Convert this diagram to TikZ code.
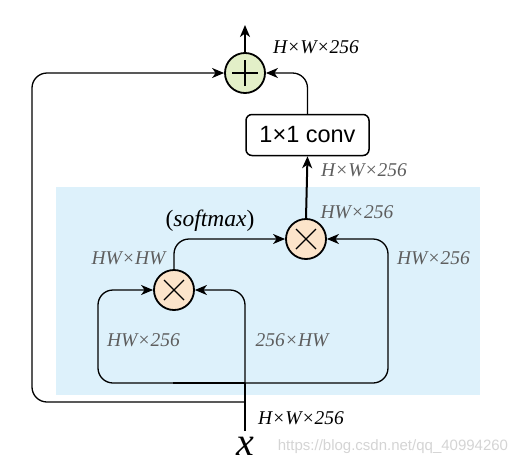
\documentclass[tikz,border=0pt]{standalone}
\usepackage{fontspec}
\setmainfont{Liberation Serif}
\newfontfamily\arialf{Liberation Sans}
\usetikzlibrary{arrows.meta}
\definecolor{bgblue}{HTML}{DDF1FB}
\definecolor{plusgreen}{HTML}{E3EFC8}
\definecolor{mulpeach}{HTML}{FCE4CA}
\definecolor{lblgray}{HTML}{5E5E5E}
\definecolor{wmgray}{HTML}{D4D4D4}
\begin{document}
\begin{tikzpicture}[x=1pt,y=-1pt,
  tip/.style={-{Stealth[length=12pt,width=10pt,inset=3.5pt]}},
  conn/.style={line width=1.3pt,rounded corners=15pt},
  thickconn/.style={line width=2pt},
  opc/.style={circle,draw,line width=1.8pt,minimum size=40pt,inner sep=0pt},
  lbl/.style={font=\fontsize{19.5}{22}\selectfont\itshape,text=lblgray,inner sep=0pt},
  lblk/.style={font=\fontsize{19.5}{22}\selectfont\itshape,text=black,inner sep=0pt}]
\useasboundingbox (0,0) rectangle (531,469);
\fill[bgblue] (56,187) rectangle (480,395);

% nodes
\node[opc,fill=plusgreen] (plus) at (245,73) {};
\node[opc,fill=mulpeach] (m1) at (174,290) {};
\node[opc,fill=mulpeach] (m2) at (306,239) {};
\node[draw,line width=1.5pt,rounded corners=6pt,fill=white,minimum width=123pt,minimum height=41pt,inner sep=0pt,font=\arialf\fontsize{23.5}{26}\selectfont] (conv) at (307.5,135) {1×1 conv};

% symbols
\draw[line width=1.8pt] ([xshift=-13pt]plus.center) -- ([xshift=13pt]plus.center);
\draw[line width=1.8pt] ([yshift=-13pt]plus.center) -- ([yshift=13pt]plus.center);
\foreach \m in {m1,m2}{
  \draw[line width=1.1pt] ([xshift=-10pt,yshift=-10pt]\m.center) -- ([xshift=10pt,yshift=10pt]\m.center);
  \draw[line width=1.1pt] ([xshift=-10pt,yshift=10pt]\m.center) -- ([xshift=10pt,yshift=-10pt]\m.center);
}

% coordinates
\coordinate (out) at (245,25);
\coordinate (xin) at (245,431);
\coordinate (skipj) at (245,402);
\coordinate (bj) at (245,383);

% connectors
\draw[thickconn,tip] (plus.north) -- (out);
\draw[conn,tip] (skipj) -- (32,402) -- (32,73) -- (plus.west);
\draw[conn,tip] (conv.north) |- (plus.east);
\draw[thickconn,tip] (m2.north) -- (conv.south);
\draw[conn,tip] (m1.north) |- (m2.west);
\draw[conn,tip] (bj) -- (98,383) -- (98,290) -- (m1.west);
\draw[conn,tip] (bj) -- (388,383) -- (388,239) -- (m2.east);
\draw[conn,tip] (bj) -- (245,290) -- (m1.east);
\draw[line width=2pt] (173,383) -- (bj);
\draw[thickconn] (xin) -- (bj);

% labels
\node[lblk] (l1) at (316,47) {H×W×256};
\node[lbl] (l2) at (364,170) {H×W×256};
\node[lbl] (l3) at (357,212) {HW×256};
\node[lblk,font=\fontsize{23.5}{26}\selectfont] (l4) at (210,221) {(\textit{softmax})};
\node[lbl] (l5) at (128.5,258) {HW×HW};
\node[lbl] (l6) at (433.5,258) {HW×256};
\node[lbl] (l7) at (143.5,340) {HW×256};
\node[lbl] (l8) at (292,340) {256×HW};
\node[lblk] (l9) at (301,418) {H×W×256};
\node[inner sep=0pt,font=\fontsize{40}{42}\selectfont\itshape] (xl) at (245,446) {x};
\node[inner sep=0pt,text=wmgray,font=\arialf\fontsize{15}{17}\selectfont] (wm) at (393,447) {https://blog.csdn.net/qq\_40994260};
\end{tikzpicture}
\end{document}
